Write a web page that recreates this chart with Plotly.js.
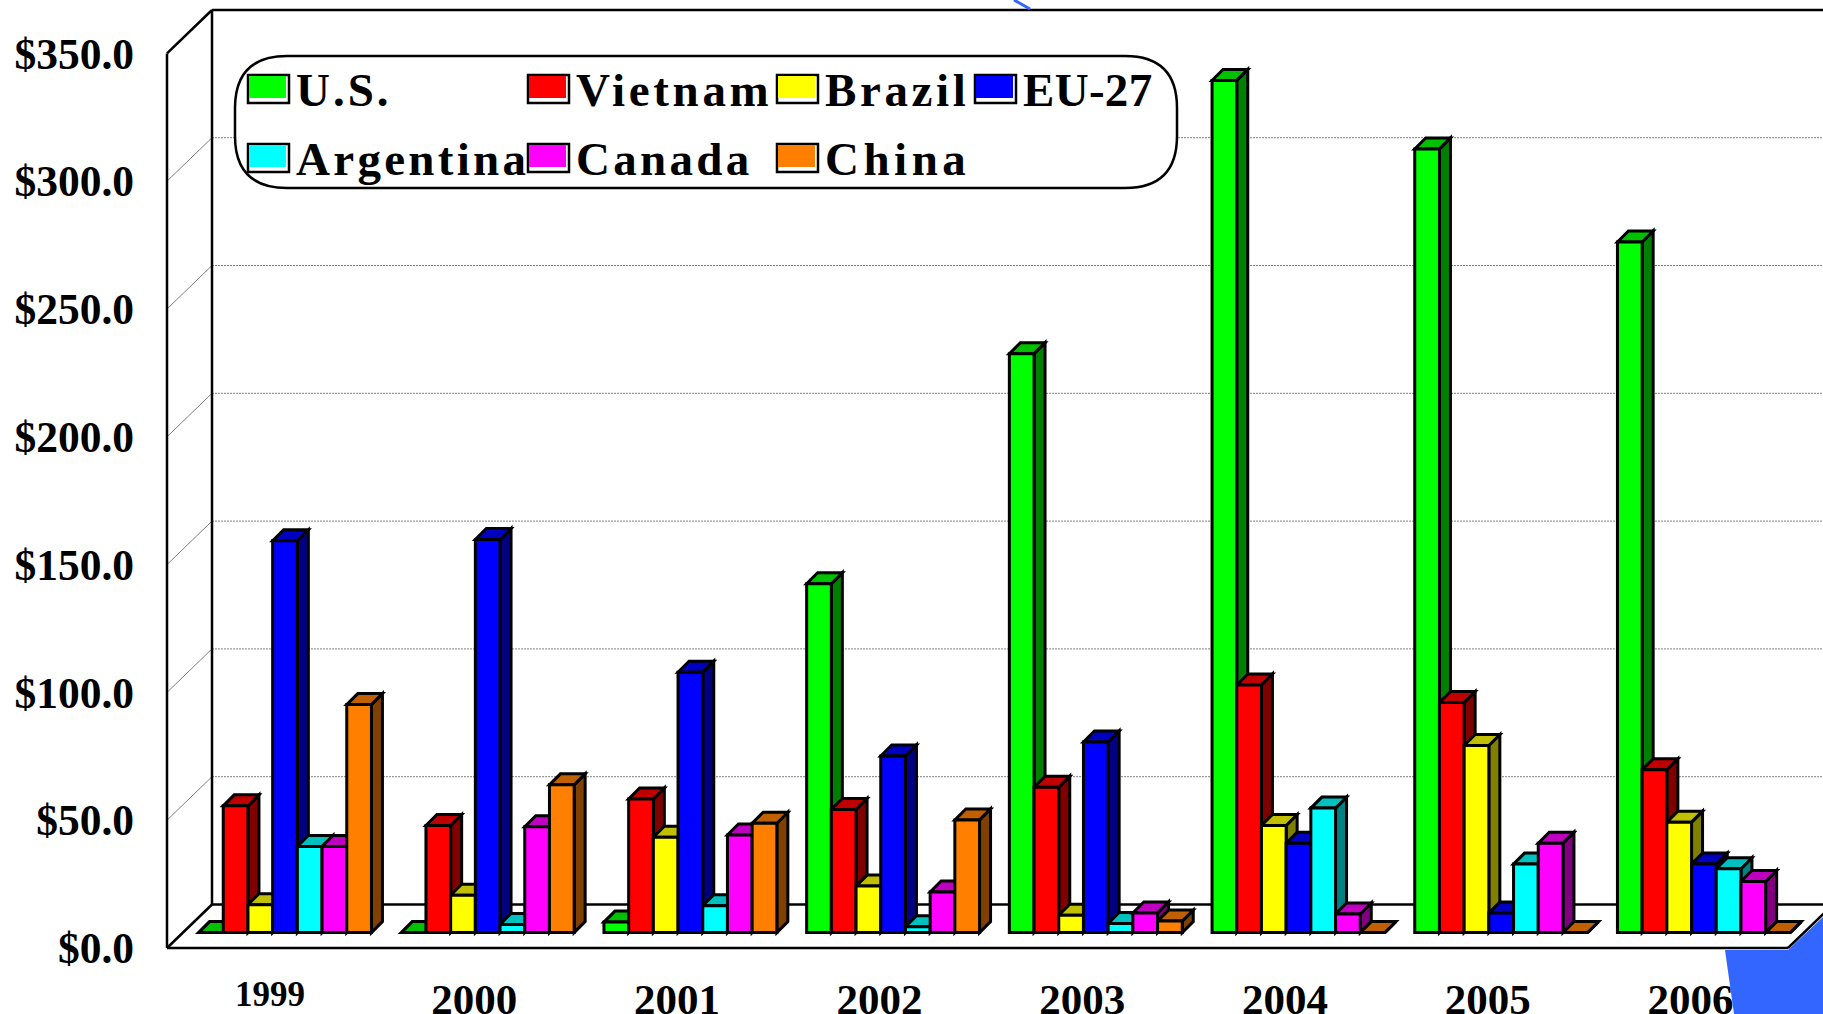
<!DOCTYPE html>
<html><head><meta charset="utf-8">
<script src="https://cdn.plot.ly/plotly-3.0.1.min.js"></script>
<style>html,body{margin:0;padding:0;background:#fff;overflow:hidden}#c{width:1823px;height:1014px}</style>
</head><body><div id="c"></div>
<script>
const years = ['1999','2000','2001','2002','2003','2004','2005','2006'];
const seriesNames = ['U.S.','Vietnam','Brazil','EU-27','Argentina','Canada','China'];
const us        = [0, 0, 4.1, 136.5, 226.5, 333.4, 306.6, 270.2];
const vietnam   = [49.6, 41.9, 52.3, 48.2, 56.9, 96.9, 90.0, 63.7];
const brazil    = [10.9, 14.6, 37.3, 18.2, 6.8, 41.9, 73.2, 43.2];
const eu27      = [153.3, 153.8, 101.9, 69.1, 74.6, 35.0, 7.7, 26.8];
const argentina = [33.7, 3.2, 10.5, 2.3, 3.6, 48.7, 26.8, 25.0];
const canada    = [33.7, 41.4, 38.2, 15.9, 7.7, 7.3, 35.0, 20.0];
const china     = [89.2, 57.8, 42.8, 44.1, 4.5, 0, 0, 0];
const yTicks    = [0, 50, 100, 150, 200, 250, 300, 350];
const yTickLabels = ['$0.0','$50.0','$100.0','$150.0','$200.0','$250.0','$300.0','$350.0'];
const front = ['#00ff00','#ff0000','#ffff00','#0000ff','#00ffff','#ff00ff','#ff8000'];
const tops  = ['#00c000','#c00000','#c0c000','#0000c0','#00c0c0','#c000c0','#c06000'];
const sides = ['#008000','#800000','#808000','#000080','#008080','#800080','#804000'];
const allSeries = [us, vietnam, brazil, eu27, argentina, canada, china];

const W = 1823, H = 1014;
const pxPerGroup = 202.7, pxPerUnit = 2.556;
const groupX0 = 285, baseY = 932.6, labelBaseY = 948, labelShiftX = 271.5;
const depth = 11, barPx = 24.7, gapFrac = 1 - 7 * barPx / pxPerGroup;
const X = p => (p - groupX0) / pxPerGroup;
const Y = p => (baseY - p) / pxPerUnit;
const px = p => p / W, py = p => 1 - p / H;
const dX = depth / pxPerGroup, dY = depth / pxPerUnit;
const barW = barPx / pxPerGroup;
const serif = '"Liberation Serif","Times New Roman",serif';

const shapes = [];
const line = (x0,y0,x1,y1,color,width,dash) => shapes.push({type:'line',layer:'below',xref:'paper',yref:'paper',
  x0:px(x0),y0:py(y0),x1:px(x1),y1:py(y1),line:{color:color,width:width,dash:dash||'solid'}});

// walls and floor
const wallX = 212, frontX = 167, floorBack = 904.5, frontFloor = 948, wallTop = 10;
yTicks.slice(1).forEach(v => {
  const back = floorBack - v * pxPerUnit;
  if (back > wallTop + 5) {
    line(wallX, back, W, back, '#808080', 1, '2px,1px');
    line(frontX, back + (frontFloor - floorBack), wallX, back, '#808080', 1);
  }
});
line(wallX, wallTop, W, wallTop, '#000', 2.5);
line(wallX, wallTop, wallX, floorBack, '#000', 2.5);
line(frontX, frontFloor - 350 * pxPerUnit, wallX, wallTop, '#000', 2.5);
line(frontX, frontFloor - 350 * pxPerUnit, frontX, frontFloor, '#000', 2.5);
line(wallX, floorBack, W, floorBack, '#000', 2.5);
line(frontX, frontFloor, wallX, floorBack, '#000', 2.5);
line(frontX, frontFloor, 1788, frontFloor, '#000', 2.5);
line(1788, frontFloor, 1833, floorBack, '#000', 2.5);

// bar depth faces, from the same values as the bars
allSeries.forEach((vals, k) => {
  vals.forEach((v, i) => {
    const l = i + (k - 3.5) * barW, r = l + barW;
    shapes.push({type:'path',layer:'below',xref:'x',yref:'y',fillcolor:sides[k],line:{color:'#000',width:3},
      path:`M${r} 0 L${r+dX} ${dY} L${r+dX} ${v+dY} L${r} ${v} Z`});
    shapes.push({type:'path',layer:'below',xref:'x',yref:'y',fillcolor:tops[k],line:{color:'#000',width:3},
      path:`M${l} ${v} L${r} ${v} L${r+dX} ${v+dY} L${l+dX} ${v+dY} Z`});
  });
});

// decorative blue slide elements
const poly = pts => 'M' + pts.map(p => px(p[0]) + ' ' + py(p[1])).join(' L') + ' Z';
shapes.push({type:'path',layer:'above',xref:'paper',yref:'paper',fillcolor:'#3366ff',line:{width:0},
  path:poly([[1725,950],[1788,950],[1823,917],[1823,1014],[1734,1014]])});
shapes.push({type:'line',layer:'above',xref:'paper',yref:'paper',x0:px(1014),y0:py(0),x1:px(1030),y1:py(9),line:{color:'#3366ff',width:3}});

// legend box
const bx0=235,bx1=1177,by0=56,by1=188,rad=52;
const P = (x,y) => px(x)+' '+py(y);
shapes.push({type:'path',layer:'above',xref:'paper',yref:'paper',fillcolor:'#fff',line:{color:'#000',width:2.5},
  path:`M${P(bx0+rad,by0)} L${P(bx1-rad,by0)} Q${P(bx1,by0)} ${P(bx1,by0+rad)} L${P(bx1,by1-rad)} Q${P(bx1,by1)} ${P(bx1-rad,by1)} L${P(bx0+rad,by1)} Q${P(bx0,by1)} ${P(bx0,by1-rad)} L${P(bx0,by0+rad)} Q${P(bx0,by0)} ${P(bx0+rad,by0)} Z`});
const legendPos = [[248,75],[528,75],[777,75],[975,75],[248,144],[528,144],[777,144]];
const legendSpacing = [3,3.7,3.6,0.3,3.3,3.3,4.5];
const annotations = [];
seriesNames.forEach((n,k) => {
  const [x,y] = legendPos[k];
  shapes.push({type:'rect',layer:'above',xref:'paper',yref:'paper',x0:px(x),x1:px(x+41),y0:py(y),y1:py(y+28),fillcolor:'#fff',line:{color:'#000',width:2.5}});
  shapes.push({type:'rect',layer:'above',xref:'paper',yref:'paper',x0:px(x+1),x1:px(x+38),y0:py(y+1),y1:py(y+23),fillcolor:front[k],line:{width:0}});
  annotations.push({xref:'paper',yref:'paper',x:px(x+46),y:py(y+15),xanchor:'left',yanchor:'middle',showarrow:false,align:'left',
    text:`<span style="letter-spacing:${legendSpacing[k]}px">${n}</span>`,
    font:{family:serif,size:47,color:'#000',weight:700}});
});
// the first year label sits a little higher and smaller in the reference
annotations.push({xref:'x2',yref:'paper',x:0,xshift:-1.5,y:py(994),xanchor:'center',yanchor:'middle',showarrow:false,
  text:years[0],font:{family:serif,size:35,color:'#000',weight:700}});

const traces = allSeries.map((vals,k) => ({type:'bar',name:seriesNames[k],x:years.map((_,i)=>i),y:vals,
  marker:{color:front[k],line:{color:'#000',width:3}}}));
traces.push({type:'scatter',mode:'none',xaxis:'x2',yaxis:'y2',x:years.map((_,i)=>i),y:years.map(()=>0),hoverinfo:'skip',showlegend:false});

Plotly.newPlot('c', traces, {
  width:W,height:H,margin:{l:0,r:0,t:0,b:0,pad:0},paper_bgcolor:'#fff',plot_bgcolor:'rgba(0,0,0,0)',
  showlegend:false,barmode:'group',bargap:gapFrac,bargroupgap:0,
  xaxis:{range:[X(0),X(W)],visible:false,fixedrange:true},
  yaxis:{range:[Y(H),Y(0)],visible:false,fixedrange:true},
  xaxis2:{overlaying:'x',anchor:'free',position:0.043,range:[-labelShiftX/pxPerGroup,(W-labelShiftX)/pxPerGroup],
    tickmode:'array',tickvals:years.map((_,i)=>i).slice(1),ticktext:years.slice(1),
    showgrid:false,zeroline:false,showline:false,ticks:'',automargin:false,fixedrange:true,
    tickfont:{family:serif,size:43,color:'#000',weight:700}},
  yaxis2:{overlaying:'y',anchor:'free',position:134/W,side:'left',range:[-(H-labelBaseY)/pxPerUnit,labelBaseY/pxPerUnit],
    tickmode:'array',tickvals:yTicks,ticktext:yTickLabels,
    showgrid:false,zeroline:false,showline:false,ticks:'',automargin:false,fixedrange:true,
    tickfont:{family:serif,size:43.5,color:'#000',weight:700}},
  shapes:shapes,annotations:annotations,hovermode:false
},{displayModeBar:false,responsive:false});
</script></body></html>
